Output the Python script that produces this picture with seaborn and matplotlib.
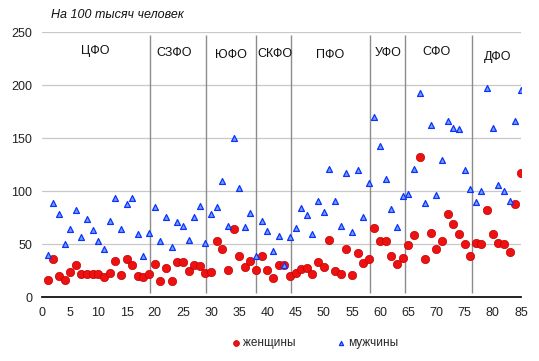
import numpy as np
import pandas as pd
import matplotlib
matplotlib.use("Agg")
import matplotlib.pyplot as plt
import seaborn as sns

# Values per 100 thousand people, subjects numbered 1..85
women = [16.4, 35.5, 20, 16.4, 24, 30.5, 22, 22, 22, 22,
         18.5, 23, 34, 21, 35.5, 30, 20, 19, 22, 31.5,
         15.4, 27, 15.4, 32.7, 33.3, 25, 30, 29, 23, 24,
         52.5, 45, 26, 64.5, 39, 28, 33.6, 26, 39, 26,
         17.6, 30.5, 30.5, 20, 23, 26.4, 27, 22, 32.7, 28,
         54, 25, 22, 45.6, 20.4, 41.8, 32.4, 35.5, 65.4, 52.5,
         52.5, 38.4, 31.4, 37, 49.4, 58.8, 131.8, 35.5, 60.7, 45,
         53, 78.6, 69, 59.7, 50.3, 39, 51.3, 50.3, 82.4, 59.7,
         51.3, 50.3, 42.8, 88, 117.3]
men = [39.6, 88.7, 78.6, 50, 63.8, 82, 57, 73.6, 63.2, 53,
       45.6, 71.7, 93.4, 63.8, 88, 93.4, 59.7, 39, 60.7, 85,
       53, 75.5, 47.5, 71, 67, 53.8, 75.5, 85.5, 51, 78.6,
       84.6, 109.4, 67, 149.7, 102.8, 65.7, 79.2, 38.7, 71.7, 62.3,
       43.4, 57.5, 30.2, 56.6, 65, 84, 77.4, 59.7, 90.6, 80.5,
       120.8, 90.6, 66.7, 117, 61.3, 119.5, 75.5, 108, 169.5, 142.5,
       111.3, 83, 65.7, 95, 97, 120.4, 193, 88.7, 162, 96.5,
       129, 166, 159.4, 158.5, 119.5, 101.6, 89.6, 99.7, 196.9, 160,
       105.7, 99.7, 90.6, 165.7, 195]
subject = list(range(1, 86))

# Federal districts: separator positions and label placement
district_names = ["ЦФО", "СЗФО", "ЮФО", "СКФО", "ПФО", "УФО", "СФО", "ДФО"]
district_label_x = [9.5, 23.4, 33.5, 41.4, 51.1, 61.35, 70.1, 80.8]
district_label_y = [232, 230, 228, 229, 228, 230, 231, 227]
separators = [19.1, 29.1, 37.9, 44.2, 58.3, 64.4, 76.3]

df = pd.DataFrame({"subject": subject, "women": women, "men": men})

sns.set_style("white")
plt.rcParams["font.family"] = ["Liberation Sans", "DejaVu Sans"]

fig = plt.figure(figsize=(5.39, 3.61), dpi=100)
ax = fig.add_axes([0.078, 0.177, 0.8895, 0.734])

ax.vlines(separators, 4, 247, color="#8c8c8c", lw=1, zorder=1)

sns.scatterplot(data=df, x="subject", y="women", ax=ax, marker="o", s=36,
                color="#ee1111", edgecolor="#c40000", linewidth=0.5,
                label="женщины", zorder=3)
sns.scatterplot(data=df, x="subject", y="men", ax=ax, marker="^", s=18,
                color="#6aa6ff", edgecolor="#1030ff", linewidth=0.9,
                label="мужчины", zorder=3)

for name, lx, ly in zip(district_names, district_label_x, district_label_y):
    ax.text(lx, ly, name, ha="center", va="center", fontsize=9, color="#111111")

ax.set_xlim(0, 85.1)
ax.set_ylim(0, 250)
ax.set_xticks(range(0, 86, 5))
ax.set_yticks(range(0, 251, 50))
ax.yaxis.grid(True, color="#c8c8c8", lw=0.9)
ax.set_axisbelow(True)
ax.tick_params(axis="both", length=0, labelsize=9, colors="#222222")
ax.tick_params(axis="x", pad=7)
ax.tick_params(axis="y", pad=7)
ax.set_xlabel("")
ax.set_ylabel("")
for side in ["top", "right", "left"]:
    ax.spines[side].set_visible(False)
ax.spines["bottom"].set_color("#111111")
ax.spines["bottom"].set_linewidth(1.3)

handles, labels = ax.get_legend_handles_labels()
ax.get_legend().remove()
fig.legend(handles, labels, loc="center", bbox_to_anchor=(0.585, 0.05), ncol=2,
           frameon=False, fontsize=8.5, markerscale=0.7, handlelength=0.6,
           handletextpad=0.3, columnspacing=3.6)

fig.text(0.095, 0.958, "На 100 тысяч человек", fontsize=9, style="italic",
         va="center", ha="left", color="#111111")

plt.savefig("out.png", dpi=100)
